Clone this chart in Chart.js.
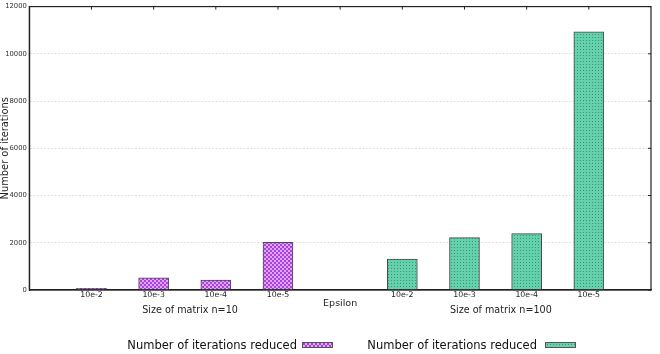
<!DOCTYPE html>
<html>
<head>
<meta charset="utf-8">
<script src="https://cdn.jsdelivr.net/npm/chart.js@4"></script>
<style>
  body { margin: 0; background: #fff; }
  #wrap { position: relative; width: 660px; height: 354px; font-family: "DejaVu Sans", sans-serif; }
  .leg { position: absolute; top: 338px; font-size: 11.5px; color: #111; white-space: nowrap; line-height: 14px; }
  .sw { position: absolute; top: 342px; width: 31px; height: 6px; border: 1px solid #555; box-sizing: border-box; }
</style>
</head>
<body>
<div id="wrap">
  <canvas id="iters" width="660" height="354"></canvas>
  <span class="leg" id="leg1" style="right:363px"></span>
  <div class="sw" id="sw1" style="left:302px"></div>
  <span class="leg" id="leg2" style="right:123px"></span>
  <div class="sw" id="sw2" style="left:545px"></div>
</div>
<script>
// values
const epsLabels = ['10e-2', '10e-3', '10e-4', '10e-5'];
const n10Iters = [75, 520, 420, 2020];
const n100Iters = [1305, 2220, 2390, 10930];
const groupNames = ['Size of matrix n=10', 'Size of matrix n=100'];
const seriesName = 'Number of iterations reduced';
const yTicks = [0, 2000, 4000, 6000, 8000, 10000, 12000];

// each group takes 5 slots on the x axis, the middle empty slot holds "Epsilon"
function slot(g, i) { return g * 5 + i + 1; }

function makePattern(size, base, dark, cells) {
    var c = document.createElement('canvas');
    c.width = size; c.height = size;
    var g = c.getContext('2d');
    g.fillStyle = base;
    g.fillRect(0, 0, size, size);
    g.fillStyle = dark;
    cells.forEach(function (r) { g.fillRect(r[0], r[1], r[2], r[3]); });
    return c;
}
var purpleTile = makePattern(4, '#e0a4fb', '#a942dd', [[0, 0, 2, 2], [2, 2, 2, 2]]);
var greenTile = makePattern(3, '#66cfab', '#2e9b79', [[1, 1, 1, 1]]);

var canvas = document.getElementById('iters');
var ctx = canvas.getContext('2d');
var purpleFill = ctx.createPattern(purpleTile, 'repeat');
var greenFill = ctx.createPattern(greenTile, 'repeat');

document.getElementById('leg1').textContent = seriesName;
document.getElementById('leg2').textContent = seriesName;
document.getElementById('sw1').style.backgroundImage = 'url(' + purpleTile.toDataURL() + ')';
document.getElementById('sw2').style.backgroundImage = 'url(' + greenTile.toDataURL() + ')';

var xTickVals = [];
epsLabels.forEach(function (l, i) { xTickVals.push(slot(0, i)); xTickVals.push(slot(1, i)); });
xTickVals.push(5);
xTickVals.push(2.585, 7.585);
xTickVals.sort(function (a, b) { return a - b; });

function xLabel(v) {
    if (v === 5) return ['', 'Epsilon'];
    if (v === 2.585) return ['', '', groupNames[0]];
    if (v === 7.585) return ['', '', groupNames[1]];
    return epsLabels[(v - 1) % 5];
}
function xFont(c) {
    var v = c.tick ? c.tick.value : 1;
    if (v === 5) return { family: 'DejaVu Sans', size: 9.5, lineHeight: '8.7px' };
    if (v === 2.585 || v === 7.585) return { family: 'DejaVu Sans', size: 9.6, lineHeight: '8.2px' };
    return { family: 'DejaVu Sans', size: 7.8, lineHeight: '10px' };
}

// box round the plot with the small inward ticks on top and right
var frame = {
    id: 'frame',
    afterDatasetsDraw: function (chart) {
        var a = chart.chartArea, c = chart.ctx;
        var xs = chart.scales.x, ys = chart.scales.y;
        c.save();
        c.strokeStyle = '#222';
        c.lineWidth = 1.2;
        c.strokeRect(a.left, a.top, a.right - a.left, a.bottom - a.top);
        c.lineWidth = 1;
        c.beginPath();
        for (var i = 1; i <= 9; i++) {
            var px = xs.getPixelForValue(i);
            c.moveTo(px, a.top); c.lineTo(px, a.top + 3);
        }
        yTicks.forEach(function (t) {
            var py = ys.getPixelForValue(t);
            c.moveTo(a.right, py); c.lineTo(a.right - 3, py);
        });
        c.stroke();
        c.restore();
    }
};

var data = {
    datasets: [
        {
            label: seriesName,
            data: n10Iters.map(function (v, i) { return { x: slot(0, i), y: v }; }),
            backgroundColor: purpleFill,
            borderColor: '#4a4a4a',
            borderWidth: 1
        },
        {
            label: seriesName,
            data: n100Iters.map(function (v, i) { return { x: slot(1, i), y: v }; }),
            backgroundColor: greenFill,
            borderColor: '#4a4a4a',
            borderWidth: 1
        }
    ]
};

var options = {
    responsive: false,
    animation: false,
    devicePixelRatio: 1,
    grouped: false,
    barThickness: 30,
    layout: { padding: { top: 5, right: 9, left: 0, bottom: 34 } },
    plugins: { legend: { display: false }, tooltip: { enabled: false } },
    scales: {
        x: {
            type: 'linear',
            min: 0,
            max: 10,
            offset: false,
            grid: { display: false, drawTicks: false, offset: false },
            border: { display: true, color: '#222', width: 1.2 },
            afterBuildTicks: function (s) { s.ticks = xTickVals.map(function (v) { return { value: v }; }); },
            afterFit: function (s) { s.height = 30; },
            ticks: {
                autoSkip: false,
                maxRotation: 0,
                minRotation: 0,
                padding: 0,
                color: '#222',
                font: xFont,
                callback: function (v) { return xLabel(v); }
            }
        },
        y: {
            min: 0,
            max: 12000,
            afterFit: function (s) { s.width = 29.3; },
            afterBuildTicks: function (s) { s.ticks = yTicks.map(function (v) { return { value: v }; }); },
            grid: {
                drawTicks: false,
                color: function (c) { return (c.tick.value === 0 || c.tick.value === 12000) ? 'transparent' : '#dadada'; }
            },
            border: { display: true, color: '#222', width: 1.2, dash: [1.5, 2] },
            ticks: {
                padding: 2.5,
                color: '#333',
                font: { family: 'DejaVu Sans', size: 6.8 },
                callback: function (v) { return String(v); }
            },
            title: {
                display: true,
                text: 'Number of iterations',
                color: '#222',
                padding: 0,
                font: { family: 'DejaVu Sans', size: 9.9, lineHeight: 1.1 }
            }
        }
    }
};

var itersChart = new Chart(ctx, {
    type: 'bar',
    data: data,
    options: options,
    plugins: [frame]
});
</script>
</body>
</html>
